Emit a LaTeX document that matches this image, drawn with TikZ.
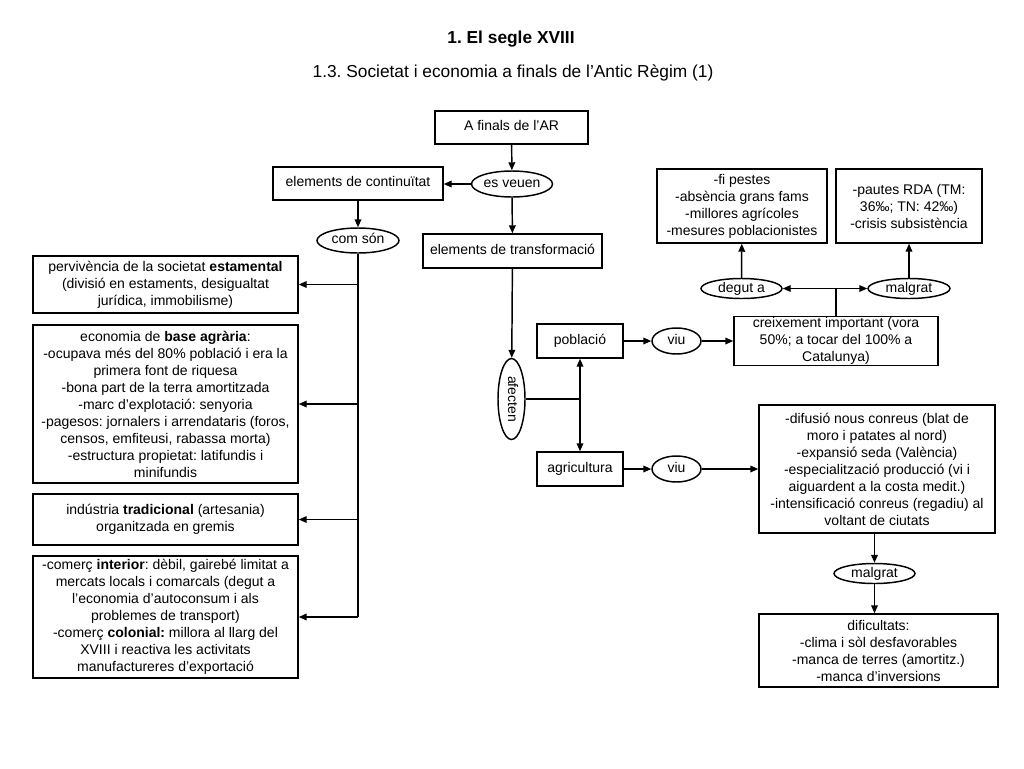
\documentclass[tikz,border=0pt]{standalone}
\usepackage{fontspec}
\setmainfont{Liberation Sans}
\frenchspacing
\usetikzlibrary{arrows.meta,shapes.geometric}
\tikzset{
  base/.style={draw, line width=1.1pt, inner sep=0pt, align=center,
    font=\fontsize{10.5}{12.75}\selectfont},
  box/.style={base, rectangle},
  oval/.style={base, ellipse},
  arr/.style={line width=1.1pt, -{Triangle[length=6pt,width=5pt]}},
  ln/.style={line width=1.1pt},
  titlef/.style={font=\fontsize{13}{15}\selectfont},
}
\begin{document}
\begin{tikzpicture}[x=0.75pt, y=-0.75pt]
\path[use as bounding box, fill=white] (0,0) rectangle (1024,768);

\node[titlef, font=\fontsize{13}{15}\selectfont\bfseries] (t1) at (511,39) {1. El segle XVIII};
\node[titlef] (t2) at (513,73) {1.3. Societat i economia a finals de l'Antic Règim (1)};

\node[box, minimum width=153*0.75pt, minimum height=33*0.75pt] (afinal) at (511.5,127.5) {\strut A finals de l'AR};
\node[oval, minimum width=81*0.75pt, minimum height=26*0.75pt] (esveuen) at (512,184) {\strut es veuen};
\node[box, minimum width=170*0.75pt, minimum height=33*0.75pt] (cont) at (358,183.5) {\strut elements de continuïtat};
\node[oval, minimum width=82*0.75pt, minimum height=25*0.75pt] (comson) at (358,240.5) {\strut com són};
\node[box, minimum width=179*0.75pt, minimum height=34*0.75pt] (transf) at (512.5,251) {\strut elements de transformació};

\node[box, minimum width=265*0.75pt, minimum height=57*0.75pt] (b1) at (165.5,284.5)
  {pervivència de la societat \textbf{estamental}\\(divisió en estaments, desigualtat\\jurídica, immobilisme)};
\node[box, minimum width=265*0.75pt, minimum height=158*0.75pt] (b2) at (165.5,404)
  {economia de \textbf{base agrària}:\\-ocupava més del 80\% població i era la\\primera font de riquesa\\-bona part de la terra amortitzada\\-marc d'explotació: senyoria\\-pagesos: jornalers i arrendataris (foros,\\censos, emfiteusi, rabassa morta)\\-estructura propietat: latifundis i\\minifundis};
\node[box, minimum width=265*0.75pt, minimum height=51*0.75pt] (b3) at (165.5,519.5)
  {indústria \textbf{tradicional} (artesania)\\organitzada en gremis};
\node[box, minimum width=265*0.75pt, minimum height=122*0.75pt] (b4) at (165.5,617)
  {-comerç \textbf{interior}: dèbil, gairebé limitat a\\mercats locals i comarcals (degut a\\l'economia d'autoconsum i als\\problemes de transport)\\-comerç \textbf{colonial:} millora al llarg del\\XVIII i reactiva les activitats\\manufactureres d'exportació};

\node[oval, rotate=-90, minimum width=81*0.75pt, minimum height=27*0.75pt] (afecten) at (511.5,399) {\strut afecten};
\node[box, minimum width=86*0.75pt, minimum height=34*0.75pt] (pobl) at (580,341) {\strut població};
\node[box, minimum width=86*0.75pt, minimum height=34*0.75pt] (agri) at (580,469) {\strut agricultura};
\node[oval, minimum width=49*0.75pt, minimum height=26*0.75pt] (viu1) at (676.5,341) {\strut viu};
\node[oval, minimum width=49*0.75pt, minimum height=26*0.75pt] (viu2) at (676.5,469) {\strut viu};
\node[box, minimum width=204*0.75pt, minimum height=49*0.75pt] (creix) at (836,341)
  {creixement important (vora\\50\%; a tocar del 100\% a\\Catalunya)};
\node[box, minimum width=170*0.75pt, minimum height=74*0.75pt] (fi) at (742,206)
  {-fi pestes\\-absència grans fams\\-millores agrícoles\\-mesures poblacionistes};
\node[box, minimum width=146*0.75pt, minimum height=74*0.75pt] (pautes) at (909,206)
  {-pautes RDA (TM:\\36‰; TN: 42‰)\\-crisis subsistència};
\node[oval, minimum width=81*0.75pt, minimum height=20*0.75pt] (degut) at (741.5,288.5) {degut a};
\node[oval, minimum width=82*0.75pt, minimum height=20*0.75pt] (malg1) at (909,288.5) {malgrat};
\node[box, minimum width=236*0.75pt, minimum height=128*0.75pt] (agrbox) at (877,469)
  {-difusió nous conreus (blat de\\moro i patates al nord)\\-expansió seda (València)\\-especialització producció (vi i\\aiguardent a la costa medit.)\\-intensificació conreus (regadiu) al\\voltant de ciutats};
\node[oval, minimum width=81*0.75pt, minimum height=20*0.75pt] (malg2) at (874.5,573.5) {malgrat};
\node[box, minimum width=239*0.75pt, minimum height=73*0.75pt] (dific) at (878.5,650.5)
  {dificultats:\\-clima i sòl desfavorables\\-manca de terres (amortitz.)\\-manca d'inversions};

% connectors
\draw[arr] (afinal) -- (esveuen);
\draw[arr] (esveuen.west) -- (esveuen.west -| cont.east);
\draw[arr] (esveuen) -- (transf);
\draw[arr] (cont) -- (comson);
\draw[ln] (comson.south) -- (comson.south |- b4.east);
\draw[arr] (comson.south |- b1.east) -- (b1.east);
\draw[arr] (comson.south |- b2.east) -- (b2.east);
\draw[arr] (comson.south |- b3.east) -- (b3.east);
\draw[arr] (comson.south |- b4.east) -- (b4.east);

\draw[arr] (transf) -- (afecten);
\coordinate (j) at (580,399);
\draw[ln] (afecten) -- (j);
\draw[arr] (j) -- (pobl);
\draw[arr] (j) -- (agri);
\draw[arr] (pobl) -- (viu1);
\draw[arr] (viu1) -- (creix);
\draw[arr] (agri) -- (viu2);
\draw[arr] (viu2) -- (agrbox);

\coordinate (k) at (836,288.5);
\draw[ln] (creix) -- (k);
\draw[arr] (k) -- (degut);
\draw[arr] (k) -- (malg1);
\draw[arr] (degut) -- (fi);
\draw[arr] (malg1) -- (pautes);

\draw[arr] (malg2.north |- agrbox.south) -- (malg2);
\draw[arr] (malg2) -- (malg2 |- dific.north);
\end{tikzpicture}
\end{document}
